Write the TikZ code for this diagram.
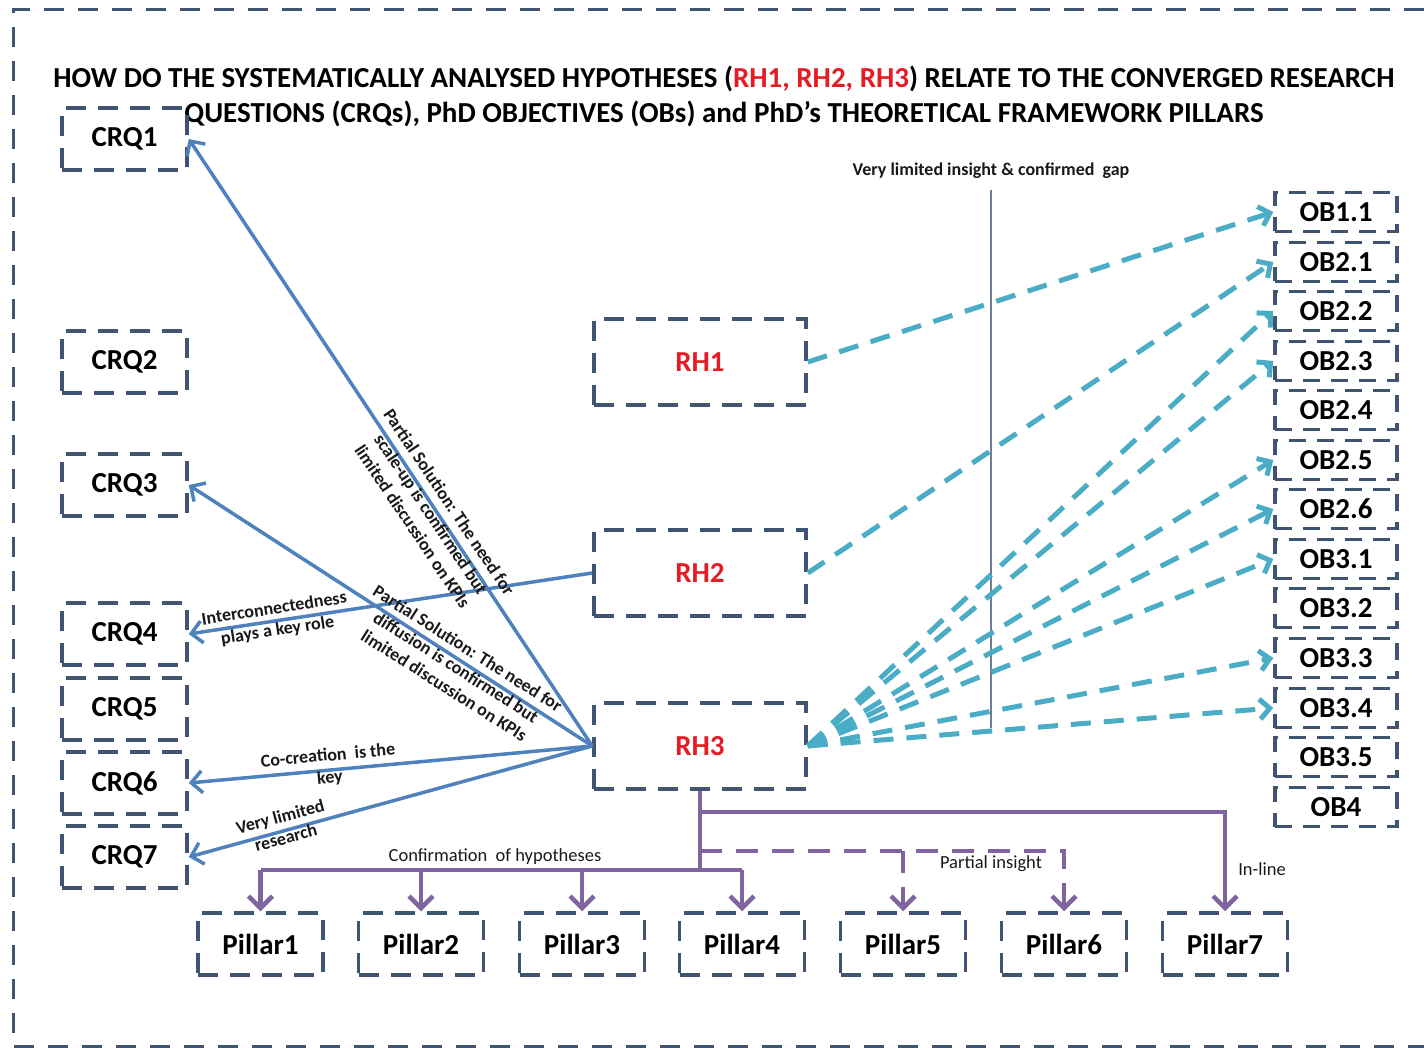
\documentclass[tikz,border=0pt]{standalone}
\usepackage{fontspec}
\setmainfont{Carlito}
\usetikzlibrary{arrows.meta}

\definecolor{boxline}{RGB}{62,84,112}
\definecolor{linkblue}{RGB}{79,129,189}
\definecolor{linkteal}{RGB}{75,172,198}
\definecolor{linkpurple}{RGB}{128,100,162}
\definecolor{hypred}{RGB}{228,28,36}
\definecolor{gapline}{RGB}{110,125,145}
\definecolor{lbltext}{RGB}{25,25,25}

\begin{document}
\begin{tikzpicture}[x=1pt, y=-1pt,
  box/.style={draw=boxline, line width=3.5pt, dash pattern=on 20pt off 12pt,
    minimum width=125pt, minimum height=62pt, inner sep=0pt,
    font=\fontsize{29}{32}\selectfont\bfseries},
  rh/.style={box, minimum width=212pt, minimum height=86pt, text=hypred},
  ob/.style={box, minimum width=122pt, minimum height=39pt,
    dash pattern=on 17pt off 11pt, font=\fontsize{29}{32}\selectfont\bfseries},
  lbl/.style={font=\fontsize{18}{22}\selectfont\bfseries, align=center,
    inner sep=0pt, text=lbltext},
  plbl/.style={font=\fontsize{18.5}{22}\selectfont, inner sep=0pt, text=lbltext},
  bluelink/.style={draw=linkblue, line width=3.5pt,
    -{Straight Barb[length=11pt,width=22pt]}},
  teallink/.style={draw=linkteal, line width=5pt, dash pattern=on 20pt off 13pt,
    -{Straight Barb[length=10pt,width=20pt]}},
  purp/.style={draw=linkpurple, line width=4.5pt},
  purptip/.style={-{Straight Barb[length=12pt,width=24pt]}}
]
\useasboundingbox (0,0) rectangle (1424,1048);

% outer frame (open on the right)
\draw[boxline, line width=3pt, dash pattern=on 20pt off 14pt]
  (1424,10) -- (13,10) -- (13,1046) -- (1424,1046);

% title
\node[font=\fontsize{29}{35}\selectfont\bfseries, align=center, inner sep=0pt]
  (title) at (724,96)
  {HOW DO THE SYSTEMATICALLY ANALYSED HYPOTHESES (\textcolor{hypred}{RH1, RH2, RH3}) RELATE TO THE CONVERGED RESEARCH\\
   QUESTIONS (CRQs), PhD OBJECTIVES (OBs) and PhD’s THEORETICAL FRAMEWORK PILLARS};

% converged research questions
\node[box] (crq1) at (124.5,139) {CRQ1};
\node[box] (crq2) at (124.5,362) {CRQ2};
\node[box] (crq3) at (124.5,485) {CRQ3};
\node[box] (crq4) at (124.5,634) {CRQ4};
\node[box] (crq5) at (124.5,709) {CRQ5};
\node[box] (crq6) at (124.5,783) {CRQ6};
\node[box] (crq7) at (124.5,857) {CRQ7};

% hypotheses
\node[rh] (rh1) at (700,362) {RH1};
\node[rh] (rh2) at (700,573) {RH2};
\node[rh] (rh3) at (700,746) {RH3};

% objectives
\foreach \name/\txt/\yy in {ob11/OB1.1/212, ob21/OB2.1/262, ob22/OB2.2/311,
    ob23/OB2.3/361, ob24/OB2.4/410, ob25/OB2.5/460, ob26/OB2.6/509,
    ob31/OB3.1/559, ob32/OB3.2/608, ob33/OB3.3/658, ob34/OB3.4/708,
    ob35/OB3.5/757, ob4/OB4/807}
  \node[ob] (\name) at (1336,\yy) {\txt};

% theoretical framework pillars
\foreach \i/\xx in {1/260.5, 2/421, 3/582, 4/742, 5/903, 6/1064, 7/1225}
  \node[box] (p\i) at (\xx,944) {Pillar\i};

% gap marker
\node[lbl] (gap) at (991,171)
  {Very limited insight \& confirmed~ gap};
\draw[gapline, line width=1.2pt] (gap.south |- 0,190) -- (gap.south |- 0,728);

% links to the research questions
\draw[bluelink] (rh3.west) -- (crq1.east);
\draw[bluelink] (rh3.west) -- (crq3.east);
\draw[bluelink] (rh2.west) -- (crq4.east);
\draw[bluelink] (rh3.west) -- (crq6.east);
\draw[bluelink] (rh3.west) -- (crq7.east);

\node[lbl, rotate=-56.1] (sol1) at (431,514)
  {Partial Solution: The need for\\ scale-up is confirmed but\\ limited discussion on KPIs};
\node[lbl, rotate=-32.4] (sol2) at (456,667)
  {Partial Solution: The need for\\ diffusion is confirmed but\\ limited discussion on KPIs};
\node[lbl, rotate=8.7] (inter) at (276,620)
  {Interconnectedness\\ plays a key role};
\node[lbl, rotate=5.2] (cocr) at (329,767)
  {Co-creation~ is the\\ key};
\node[lbl, rotate=14.9] (vlim) at (283,827)
  {Very limited\\ research};

% links to the objectives
\draw[teallink] (rh1.east) -- (ob11.west);
\draw[teallink] (rh2.east) -- (ob21.west);
\foreach \t in {ob22, ob23, ob25, ob26, ob31, ob33, ob34}
  \draw[teallink] (rh3.east) -- (\t.west);

% links to the pillars
\draw[purp] (rh3.south) -- (rh3.south |- 0,870);
\draw[purp] (p1.north |- 0,870) -- (p4.north |- 0,870);
\foreach \i in {1,2,3,4}
  \draw[purp, purptip] (p\i.north |- 0,870) -- (p\i.north);
\draw[purp, purptip] (rh3.south |- 0,812) -| (p7.north);
\draw[purp, purptip, dash pattern=on 22pt off 14pt] (rh3.south |- 0,851) -| (p6.north);
\draw[purp, purptip, dash pattern=on 22pt off 14pt] (p5.north |- 0,851) -- (p5.north);

\node[plbl] (conf) at (495,857) {Confirmation~ of hypotheses};
\node[plbl] (part) at (991,864) {Partial insight};
\node[plbl] (inl) at (1262,869) {In-line};

\end{tikzpicture}
\end{document}
